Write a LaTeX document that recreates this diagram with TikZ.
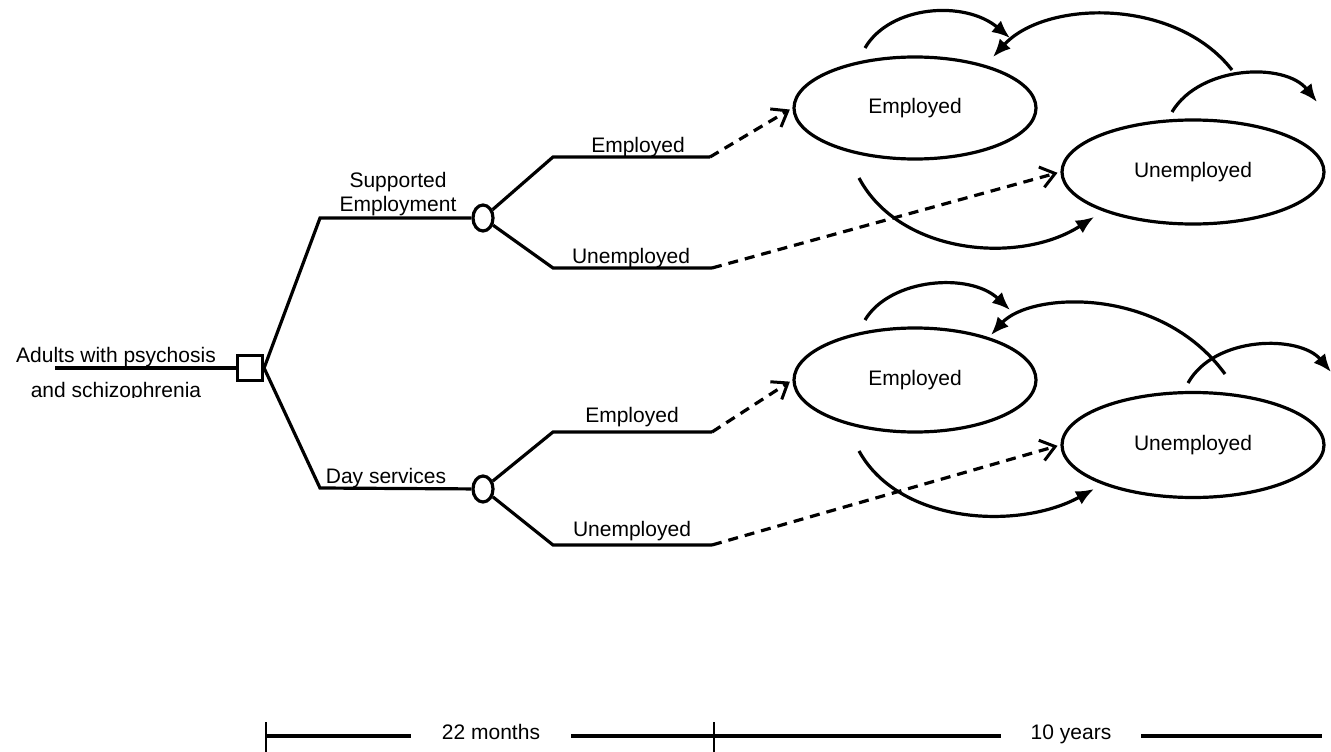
\documentclass[tikz,border=0pt]{standalone}
\usepackage{fontspec}
\setmainfont{Liberation Sans}
\usetikzlibrary{arrows.meta,shapes.geometric}
\begin{document}
\begin{tikzpicture}[x=1pt,y=-1pt,
  lbl/.style={font=\fontsize{21}{24}\selectfont, inner sep=0pt, text height=15pt, text depth=4pt},
  ln/.style={line width=3.2pt},
  dsh/.style={line width=3.2pt, dash pattern=on 10pt off 7pt, -{Straight Barb[length=14pt,width=21pt,line width=3pt]}, shorten >=3pt},
  arc/.style={line width=3.2pt, -{Latex[length=18pt,width=15pt]}},
  chance/.style={draw, ellipse, line width=3.2pt, minimum width=20pt, minimum height=26pt, inner sep=0pt},
  decbox/.style={draw, rectangle, line width=3.2pt, minimum size=25pt, inner sep=0pt},
  state/.style={draw, ellipse, line width=3.2pt, inner sep=0pt, font=\fontsize{21}{24}\selectfont},
  tick/.style={line width=2pt},
  tl/.style={line width=3.2pt}]
\useasboundingbox (0,0) rectangle (1331,752);

% root
\coordinate (r0) at (55,368);
\node[decbox] (dec) at (250,368) {};
\node[lbl] (adults) at (116,357) {Adults with psychosis};
\begin{scope}
  \clip (0,372) rectangle (240,397);
  \node[lbl] (schiz) at (116,392) {and schizophrenia};
\end{scope}
\draw[ln] (r0) -- (dec);

% chance nodes
\coordinate (a1) at (320,218);
\coordinate (a2) at (320,488);
\node[chance] (c1) at (483,218) {};
\node[chance] (c2) at (483,489) {};
\draw[ln] (dec.east) -- (a1) -- (c1);
\draw[ln] (dec.east) -- (a2) -- (c2);
\node[lbl] (sup1) at (398,182) {Supported};
\node[lbl] (sup2) at (398,206) {Employment};
\node[lbl] (day) at (386,478) {Day services};

% outcome branches
\coordinate (b1) at (553,157); \coordinate (b1e) at (710,157);
\coordinate (b2) at (553,268); \coordinate (b2e) at (712,268);
\coordinate (b3) at (553,432); \coordinate (b3e) at (712,432);
\coordinate (b4) at (553,545); \coordinate (b4e) at (712,545);
\draw[ln] (c1) -- (b1) -- (b1e);
\draw[ln] (c1) -- (b2) -- (b2e);
\draw[ln] (c2) -- (b3) -- (b3e);
\draw[ln] (c2) -- (b4) -- (b4e);
\node[lbl] (l1) at (638,147) {Employed};
\node[lbl] (l2) at (631,258) {Unemployed};
\node[lbl] (l3) at (632,417) {Employed};
\node[lbl] (l4) at (632,531) {Unemployed};

% Markov states
\node[state, minimum width=242pt, minimum height=102pt] (E1) at (915,108) {Employed};
\node[state, minimum width=262pt, minimum height=104pt] (U1) at (1193,172) {Unemployed};
\node[state, minimum width=242pt, minimum height=104pt] (E2) at (915,380) {Employed};
\node[state, minimum width=262pt, minimum height=105pt] (U2) at (1193,445) {Unemployed};

\draw[dsh] (b1e) -- (E1.west);
\draw[dsh] (b2e) -- (U1.west);
\draw[dsh] (b3e) -- (E2.west);
\draw[dsh] (b4e) -- (U2.west);

% transitions, upper
\coordinate (s1) at (865,48);   \coordinate (t1) at (1010,38);
\coordinate (s2) at (1232,70);  \coordinate (t2) at (993,57);
\coordinate (s3) at (1172,112); \coordinate (t3) at (1317,102);
\coordinate (s4) at (859,178);  \coordinate (t4) at (1094,217);
\draw[arc] (s1) .. controls (890,5) and (965,0) .. (t1);
\draw[arc] (s2) .. controls (1175,-3) and (1045,0) .. (t2);
\draw[arc] (s3) .. controls (1200,65) and (1285,62) .. (t3);
\draw[arc] (s4) .. controls (900,255) and (1020,265) .. (t4);

% transitions, lower
\coordinate (s5) at (865,320);  \coordinate (t5) at (1010,310);
\coordinate (s6) at (1225,374); \coordinate (t6) at (991,335);
\coordinate (s7) at (1188,383); \coordinate (t7) at (1331,372);
\coordinate (s8) at (859,451);  \coordinate (t8) at (1094,489);
\draw[arc] (s5) .. controls (890,278) and (970,272) .. (t5);
\draw[arc] (s6) .. controls (1160,285) and (1030,292) .. (t6);
\draw[arc] (s7) .. controls (1215,335) and (1300,335) .. (t7);
\draw[arc] (s8) .. controls (900,525) and (1020,530) .. (t8);

% timeline
\coordinate (tA) at (266,736);
\coordinate (tB) at (714,736);
\coordinate (tC) at (1322,736);
\node[lbl, inner xsep=31pt] (m22) at (491,734) {22 months};
\node[lbl, inner xsep=30pt] (y10) at (1071,734) {10 years};
\draw[tl] (tA) -- (tA -| m22.west);
\draw[tl] (tA -| m22.east) -- (tB) -- (tB -| y10.west);
\draw[tl] (tA -| y10.east) -- (tC);
\draw[tick] ([yshift=-30pt]tA) -- ([yshift=14pt]tA);
\draw[tick] ([yshift=-30pt]tB) -- ([yshift=14pt]tB);
\end{tikzpicture}
\end{document}
